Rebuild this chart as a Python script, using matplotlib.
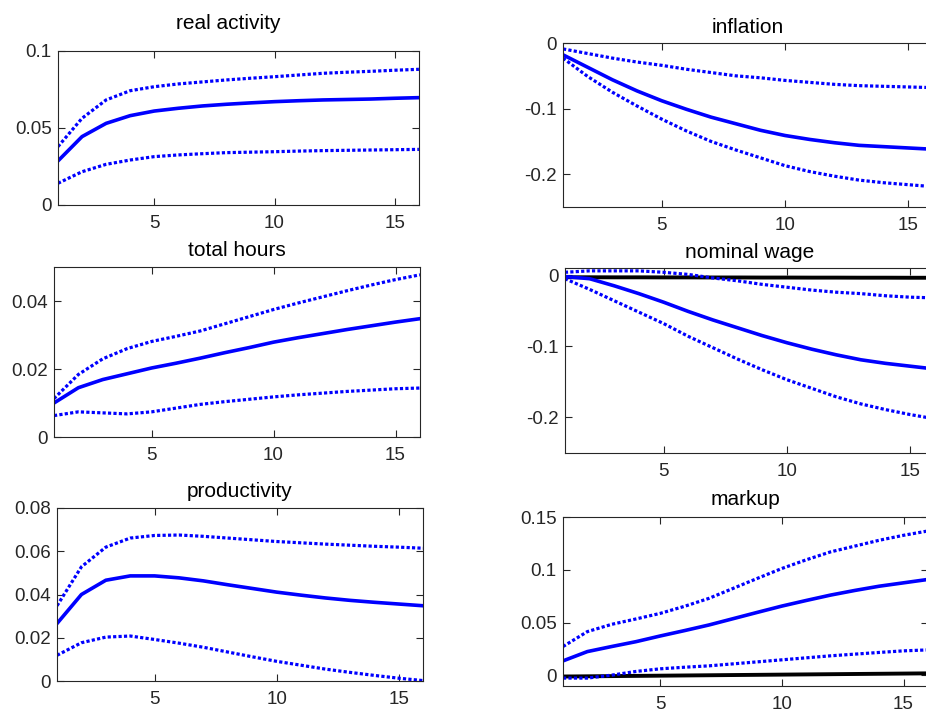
import matplotlib
matplotlib.use('Agg')
import matplotlib.pyplot as plt
from matplotlib.ticker import FuncFormatter
import numpy as np

plt.rcParams['font.family'] = ['Liberation Sans', 'DejaVu Sans']
plt.rcParams['axes.unicode_minus'] = False

horizon = np.arange(1, 17)

# real activity
ra_mid = [0.0286, 0.0444, 0.0530, 0.0580, 0.0610, 0.0628, 0.0643, 0.0654, 0.0663, 0.0671,
          0.0677, 0.0682, 0.0685, 0.0688, 0.0693, 0.0697]
ra_hi = [0.0379, 0.0563, 0.0682, 0.0742, 0.0768, 0.0786, 0.0799, 0.0812, 0.0823, 0.0833,
         0.0844, 0.0855, 0.0862, 0.0868, 0.0875, 0.0881]
ra_lo = [0.0141, 0.0216, 0.0264, 0.0292, 0.0314, 0.0325, 0.0333, 0.0340, 0.0343, 0.0346,
         0.0350, 0.0353, 0.0355, 0.0357, 0.0359, 0.0361]

# inflation
inf_mid = [-0.018, -0.037, -0.056, -0.073, -0.088, -0.101, -0.113, -0.123, -0.133, -0.141,
           -0.147, -0.152, -0.156, -0.158, -0.160, -0.162]
inf_hi = [-0.009, -0.016, -0.023, -0.029, -0.034, -0.040, -0.045, -0.050, -0.053, -0.057,
          -0.060, -0.063, -0.065, -0.066, -0.067, -0.068]
inf_lo = [-0.023, -0.051, -0.075, -0.096, -0.116, -0.134, -0.150, -0.163, -0.175, -0.187,
          -0.196, -0.203, -0.209, -0.213, -0.216, -0.219]

# total hours
th_mid = [0.0100, 0.0145, 0.0169, 0.0186, 0.0203, 0.0217, 0.0232, 0.0248, 0.0263, 0.0279,
          0.0292, 0.0304, 0.0316, 0.0327, 0.0338, 0.0348]
th_hi = [0.0113, 0.0184, 0.0230, 0.0260, 0.0281, 0.0296, 0.0312, 0.0333, 0.0354, 0.0375,
         0.0394, 0.0412, 0.0430, 0.0447, 0.0463, 0.0477]
th_lo = [0.0063, 0.0074, 0.0071, 0.0068, 0.0074, 0.0085, 0.0096, 0.0104, 0.0111, 0.0118,
         0.0124, 0.0129, 0.0134, 0.0138, 0.0142, 0.0144]

# nominal wage
nw_mid = [-0.002, -0.005, -0.015, -0.026, -0.038, -0.051, -0.063, -0.074, -0.085, -0.095,
          -0.104, -0.112, -0.119, -0.124, -0.128, -0.132]
nw_hi = [0.004, 0.006, 0.006, 0.006, 0.004, 0.001, -0.004, -0.008, -0.013, -0.017,
         -0.021, -0.024, -0.026, -0.029, -0.031, -0.032]
nw_lo = [-0.005, -0.020, -0.036, -0.052, -0.068, -0.086, -0.102, -0.118, -0.133, -0.147,
         -0.159, -0.171, -0.181, -0.189, -0.196, -0.202]
nw_zero = [-0.0030, -0.0030, -0.0031, -0.0031, -0.0032, -0.0032, -0.0033, -0.0033, -0.0034,
           -0.0034, -0.0035, -0.0035, -0.0036, -0.0036, -0.0037, -0.0037]

# productivity
pr_mid = [0.0266, 0.0400, 0.0466, 0.0486, 0.0486, 0.0477, 0.0463, 0.0445, 0.0428, 0.0411,
          0.0397, 0.0384, 0.0373, 0.0364, 0.0356, 0.0348]
pr_hi = [0.0348, 0.0528, 0.0619, 0.0661, 0.0673, 0.0675, 0.0669, 0.0661, 0.0653, 0.0645,
         0.0639, 0.0633, 0.0628, 0.0623, 0.0619, 0.0614]
pr_lo = [0.0119, 0.0177, 0.0203, 0.0208, 0.0192, 0.0175, 0.0156, 0.0134, 0.0112, 0.0091,
         0.0073, 0.0055, 0.0040, 0.0026, 0.0013, 0.0002]

# markup
mk_mid = [0.0138, 0.0226, 0.0274, 0.0320, 0.0374, 0.0425, 0.0478, 0.0538, 0.0598, 0.0657,
          0.0710, 0.0761, 0.0805, 0.0845, 0.0877, 0.0909]
mk_hi = [0.0274, 0.0415, 0.0484, 0.0535, 0.0588, 0.0655, 0.0730, 0.0825, 0.0920, 0.1013,
         0.1095, 0.1170, 0.1225, 0.1280, 0.1327, 0.1368]
mk_lo = [-0.0025, -0.0025, 0.0003, 0.0038, 0.0063, 0.0078, 0.0091, 0.0110, 0.0129, 0.0148,
         0.0167, 0.0186, 0.0202, 0.0218, 0.0233, 0.0242]
mk_zero = [-0.001, -0.0008, -0.0006, -0.0004, -0.0002, 0.0000, 0.0002, 0.0004, 0.0006, 0.0008,
           0.0010, 0.0012, 0.0014, 0.0016, 0.0018, 0.0020]

panels = [
    # title, mid, hi, lo, zero line, ylim, yticks, rect, title pad, title x
    ('real activity', ra_mid, ra_hi, ra_lo, None, (0, 0.1), [0, 0.05, 0.1],
     [0.0626, 0.7141, 0.3898, 0.2148], 16, 0.473),
    ('inflation', inf_mid, inf_hi, inf_lo, None, (-0.25, 0), [-0.2, -0.1, 0],
     [0.608, 0.7113, 0.3996, 0.2287], 7, 0.5),
    ('total hours', th_mid, th_hi, th_lo, None, (0, 0.05), [0, 0.02, 0.04],
     [0.0583, 0.3905, 0.3952, 0.2371], 8, 0.5),
    ('nominal wage', nw_mid, nw_hi, nw_lo, nw_zero, (-0.25, 0.01), [-0.2, -0.1, 0],
     [0.610, 0.3682, 0.3996, 0.258], 7, 0.5),
    ('productivity', pr_mid, pr_hi, pr_lo, None, (0, 0.08), [0, 0.02, 0.04, 0.06, 0.08],
     [0.0616, 0.0502, 0.3952, 0.2413], 8, 0.5),
    ('markup', mk_mid, mk_hi, mk_lo, mk_zero, (-0.01, 0.15), [0, 0.05, 0.1, 0.15],
     [0.608, 0.0432, 0.394, 0.2357], 8.5, 0.5),
]

fig = plt.figure(figsize=(9.26, 7.17), dpi=100)
dots = (0, (1.0, 0.7))
gris = (0.15, 0.15, 0.15)

for titulo, mid, hi, lo, zero, ylim, yticks, rect, pad, tx in panels:
    ax = fig.add_axes(rect)
    if zero is not None:
        ax.plot(horizon, zero, color='black', lw=2.8, solid_capstyle='butt')
    ax.plot(horizon, hi, color='blue', lw=2.3, linestyle=dots, dash_capstyle='butt')
    ax.plot(horizon, lo, color='blue', lw=2.3, linestyle=dots, dash_capstyle='butt')
    ax.plot(horizon, mid, color='blue', lw=2.6)
    ax.set_xlim(1, 16)
    ax.set_ylim(*ylim)
    ax.set_xticks([5, 10, 15])
    ax.set_yticks(yticks)
    ax.yaxis.set_major_formatter(FuncFormatter(lambda v, p: '%g' % round(v, 4)))
    ax.tick_params(direction='in', top=True, right=True, length=5, width=0.8,
                   labelsize=13.5, colors=gris)
    ax.tick_params(axis='x', pad=7)
    ax.tick_params(axis='y', pad=4.5)
    for s in ax.spines.values():
        s.set_color(gris)
        s.set_linewidth(0.8)
    ax.set_title(titulo, fontsize=15, pad=pad, x=tx, color='black')

plt.savefig('out.png', dpi=100)
plt.close()
